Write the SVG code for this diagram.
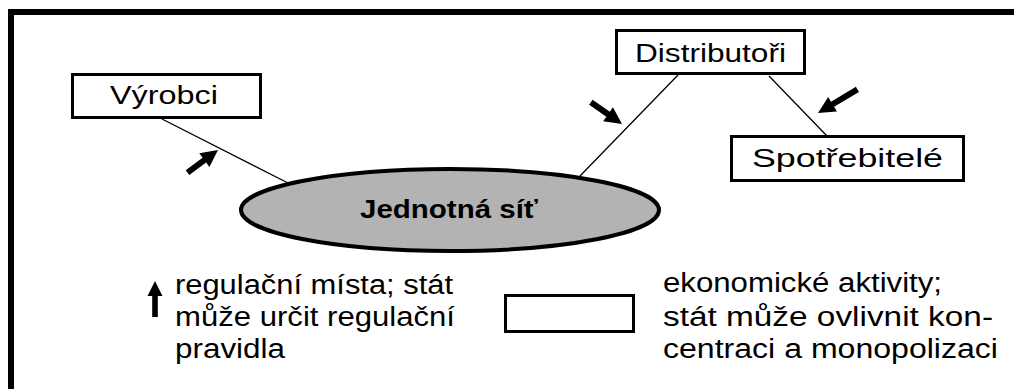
<svg xmlns="http://www.w3.org/2000/svg" width="1014" height="389" viewBox="0 0 1014 389">
<style>
.box{fill:#ffffff;stroke:#000000;stroke-width:3}
.lbl{font-family:"Liberation Sans",Arial,sans-serif;font-size:25px;fill:#000000}
.body{font-family:"Liberation Sans",Arial,sans-serif;font-size:27px;fill:#000000}
.bold{font-family:"Liberation Sans",Arial,sans-serif;font-size:25px;font-weight:bold;fill:#000000}
.conn{stroke:#000000;stroke-width:1.3;fill:none}
.arr{fill:#000000}
.frame{stroke:#000000;stroke-width:6;fill:none}
</style>
<defs>
<path id="arrowS" d="M0,0 L-17,-8.5 L-17,-3 L-38,-3 L-38,3 L-17,3 L-17,8.5 Z"/>
<path id="arrowL" d="M0,0 L-17,-8.5 L-17,-3 L-46,-3 L-46,3 L-17,3 L-17,8.5 Z"/>
<path id="arrowU" d="M0,0 L-15,-7.5 L-15,-2.8 L-36,-2.8 L-36,2.8 L-15,2.8 L-15,7.5 Z"/>
</defs>
<rect width="1014" height="389" fill="#ffffff"/>
<path class="frame" d="M11,389 L11,12 L1014,12"/>
<g id="connectors">
<line class="conn" x1="162" y1="119" x2="288" y2="183"/>
<line class="conn" x1="678" y1="75" x2="580" y2="176"/>
<line class="conn" x1="769" y1="76" x2="827" y2="136"/>
<use class="arr" href="#arrowS" transform="translate(218,150) rotate(-36.6)"/>
<use class="arr" href="#arrowS" transform="translate(622,124) rotate(35)"/>
<use class="arr" href="#arrowL" transform="translate(818,113) rotate(149)"/>
</g>
<g id="node-vyrobci">
<rect class="box" x="72.5" y="74.5" width="188" height="43"/>
<text class="lbl" x="164" y="104" text-anchor="middle" textLength="108" lengthAdjust="spacingAndGlyphs">Výrobci</text>
</g>
<g id="node-distributori">
<rect class="box" x="616.5" y="30.5" width="188" height="43"/>
<text class="lbl" x="710.5" y="62" text-anchor="middle" textLength="151" lengthAdjust="spacingAndGlyphs">Distributoři</text>
</g>
<g id="node-spotrebitele">
<rect class="box" x="731.5" y="136.5" width="232" height="44"/>
<text class="lbl" x="847.5" y="167" text-anchor="middle" textLength="191" lengthAdjust="spacingAndGlyphs">Spotřebitelé</text>
</g>
<g id="node-sit">
<ellipse cx="450" cy="210" rx="209" ry="41" fill="#b3b3b3" stroke="#000000" stroke-width="4"/>
<text class="bold" x="449" y="218" text-anchor="middle" textLength="178" lengthAdjust="spacingAndGlyphs">Jednotná síť</text>
</g>
<g id="legend-regulace">
<use class="arr" href="#arrowU" transform="translate(155,281) rotate(-90)"/>
<text class="body" x="175" y="294" textLength="278" lengthAdjust="spacingAndGlyphs">regulační místa; stát</text>
<text class="body" x="175" y="326" textLength="280" lengthAdjust="spacingAndGlyphs">může určit regulační</text>
<text class="body" x="175" y="358" textLength="110" lengthAdjust="spacingAndGlyphs">pravidla</text>
</g>
<g id="legend-aktivity">
<rect class="box" x="505.5" y="295.5" width="128" height="36"/>
<text class="body" x="663" y="292" textLength="279" lengthAdjust="spacingAndGlyphs">ekonomické aktivity;</text>
<text class="body" x="663" y="326" textLength="330" lengthAdjust="spacingAndGlyphs">stát může ovlivnit kon-</text>
<text class="body" x="663" y="358" textLength="335" lengthAdjust="spacingAndGlyphs">centraci a monopolizaci</text>
</g>
</svg>
